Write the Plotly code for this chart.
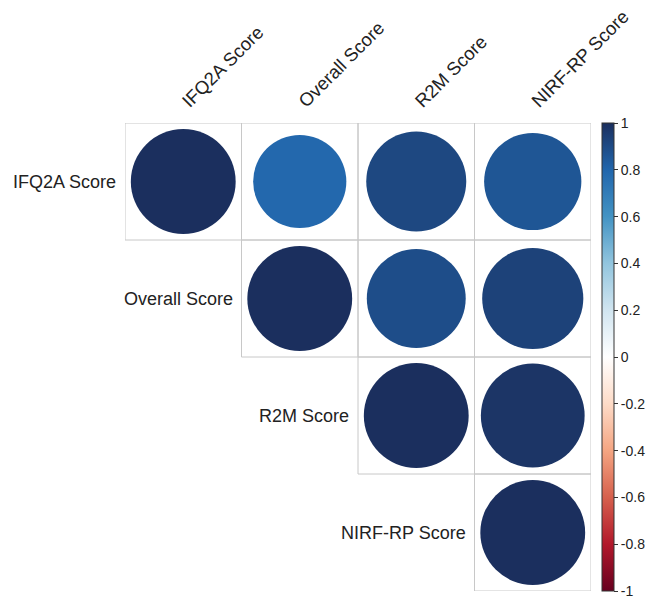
import numpy as np
import plotly.graph_objects as go

labels = ["IFQ2A Score", "Overall Score", "R2M Score", "NIRF-RP Score"]
# upper-triangle correlation rows (starting at the diagonal)
ifq2a_row = [1.00, 0.79, 0.91, 0.86]
overall_row = [1.00, 0.89, 0.93]
r2m_row = [1.00, 0.98]
nirf_row = [1.00]
cbar_ticks = [1, 0.8, 0.6, 0.4, 0.2, 0, -0.2, -0.4, -0.6, -0.8, -1]

rows = [ifq2a_row, overall_row, r2m_row, nirf_row]
n = len(labels)

W, H = 648, 599
L, R, T, B = 125, 57, 123, 8
cell_px = (W - L - R) / n

xs, ys, vals = [], [], []
for i, row in enumerate(rows):
    for k, v in enumerate(row):
        j = i + k
        xs.append(labels[j]); ys.append(labels[i]); vals.append(v)

colorscale = [
    [0.0, "#67001F"], [0.1, "#B2182B"], [0.2, "#D6604D"], [0.3, "#F4A582"],
    [0.4, "#FDDBC7"], [0.5, "#FFFFFF"], [0.6, "#D1E5F0"], [0.7, "#92C5DE"],
    [0.8, "#4393C3"], [0.9, "#2166AC"], [1.0, "#1B2F5E"],
]

sizes = [0.9 * cell_px * np.sqrt(abs(v)) for v in vals]

fig = go.Figure()
fig.add_trace(go.Scatter(
    x=xs, y=ys, mode="markers",
    marker=dict(size=sizes, sizemode="diameter", color=vals, colorscale=colorscale,
                cmin=-1, cmax=1, opacity=1, line=dict(width=0),
                colorbar=dict(
                    x=1.024, xanchor="left", xpad=0, y=0.5, yanchor="middle",
                    len=1.0, lenmode="fraction", ypad=0, thickness=12,
                    outlinewidth=1, outlinecolor="#333333",
                    tickvals=cbar_ticks, ticktext=[str(t) for t in cbar_ticks],
                    ticks="outside", ticklen=4, tickcolor="#333333",
                    tickfont=dict(family="Liberation Sans, Arial", size=14, color="#222222"),
                )),
    hoverinfo="skip", showlegend=False,
))

shapes = []
for i in range(n):
    for j in range(i, n):
        shapes.append(dict(type="rect", xref="x", yref="y",
                           x0=j - 0.5, x1=j + 0.5, y0=i - 0.5, y1=i + 0.5,
                           line=dict(color="#c8c8c8", width=1), layer="below"))

annotations = []
for i in range(n):
    annotations.append(dict(x=i - 0.5, y=i, xref="x", yref="y", text=labels[i],
                            showarrow=False, xanchor="right", yanchor="middle", xshift=-7,
                            font=dict(family="Liberation Sans, Arial", size=18, color="#222222")))

fig.update_layout(
    width=W, height=H, margin=dict(l=L, r=R, t=T, b=B, autoexpand=False),
    paper_bgcolor="white", plot_bgcolor="white",
    shapes=shapes, annotations=annotations,
    xaxis=dict(type="category", categoryorder="array", categoryarray=labels,
               range=[-0.5, n - 0.5], side="top", tickangle=-45, automargin=False,
               ticklabelstandoff=7,
               showgrid=False, zeroline=False, showline=False, ticks="",
               tickfont=dict(family="Liberation Sans, Arial", size=18.5, color="#222222")),
    yaxis=dict(type="category", categoryorder="array", categoryarray=labels,
               range=[n - 0.5, -0.5], showticklabels=False, automargin=False,
               showgrid=False, zeroline=False, showline=False, ticks=""),
)

fig.write_html("out.html")
